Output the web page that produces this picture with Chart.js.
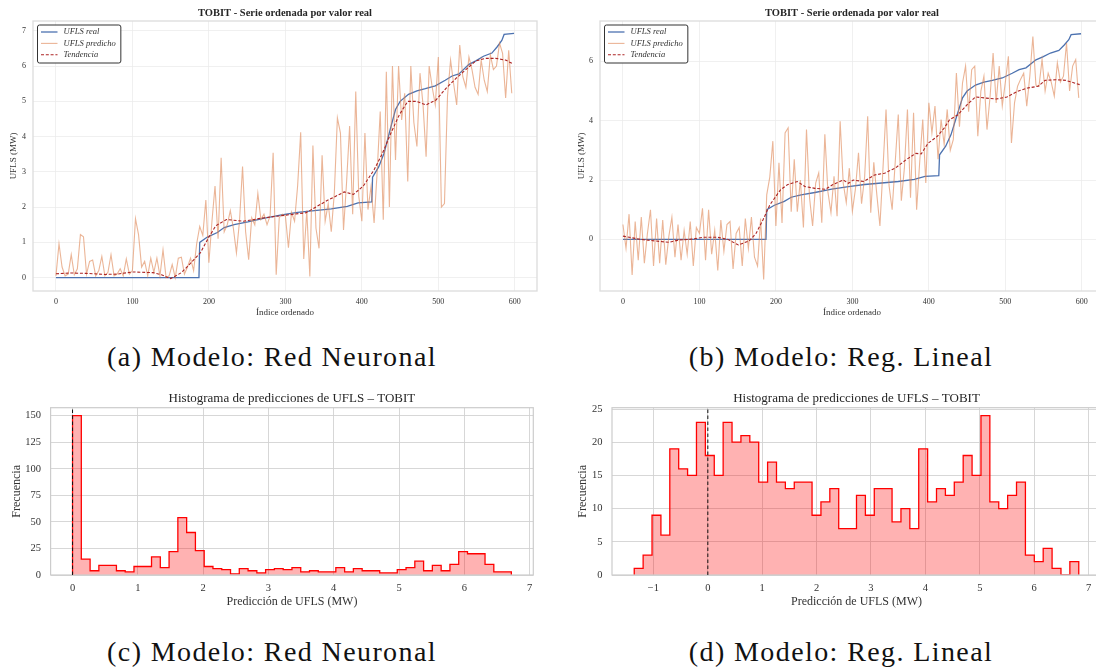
<!DOCTYPE html>
<html>
<head>
<meta charset="utf-8">
<script src="https://cdn.jsdelivr.net/npm/chart.js@4.4.0/dist/chart.umd.min.js"></script>
<style>
  html, body { margin: 0; padding: 0; background: #fff; }
  body { width: 1096px; height: 671px; position: relative; overflow: hidden; font-family: "Liberation Serif", serif; }
  canvas { position: absolute; }
  .caption { position: absolute; width: 560px; text-align: center; font-size: 28px; line-height: 30px; letter-spacing: 1.4px; color: #111; }
</style>
</head>
<body>
<canvas id="serieNN" width="545" height="325" style="left:0;top:0"></canvas>
<canvas id="serieRL" width="560" height="325" style="left:550px;top:0"></canvas>
<canvas id="histNN" width="545" height="230" style="left:0;top:385px"></canvas>
<canvas id="histRL" width="560" height="230" style="left:550px;top:385px"></canvas>
<div class="caption" style="left:-8px;top:342px">(a) Modelo: Red Neuronal</div>
<div class="caption" style="left:561px;top:342px">(b) Modelo: Reg. Lineal</div>
<div class="caption" style="left:-8px;top:637px">(c) Modelo: Red Neuronal</div>
<div class="caption" style="left:561px;top:637px">(d) Modelo: Reg. Lineal</div>
<script>
// ---- datos ----
// serie real (vertices de la curva ordenada)
const indiceReal = [0, 187, 188, 198, 211, 220, 233, 251, 273, 295, 316, 338, 360, 381, 395, 413, 414, 422, 429, 437, 444, 450, 461, 472, 483, 496, 509, 518, 527, 540, 549, 559, 570, 577, 583, 586, 599];
const uflsReal = [0, 0, 1.0, 1.15, 1.28, 1.42, 1.5, 1.58, 1.69, 1.78, 1.85, 1.9, 1.95, 2.02, 2.12, 2.15, 2.85, 3.14, 3.53, 4.2, 4.77, 5.0, 5.2, 5.3, 5.36, 5.44, 5.6, 5.72, 5.78, 6.05, 6.15, 6.28, 6.37, 6.55, 6.73, 6.9, 6.93];

// predicciones, una cada 4 indices
const paso = 4;
const predNN = [
  0.05, 0.96, 0.3, 0.05, 0.1, 0.65, 0.08, 0.25, 1.22, 1.16, 0.1, 0.46, 0.5, 0.05, 0.2, 0.6, 0.05, 0.15, 0.65, 0.05, 0.1, 0.25, 0.05, 0.53,
  0.1, 0.2, 1.67, 1.22, 0.3, 0.46, 0.05, 0.55, 0.15, 0.55, 0.05, 0.79, 0.0, 0.05, 0.37, 0.0, 0.55, 0.58, 0.1, 0.3, 0.55, 0.2, 0.96,
  1.45, 1.2, 2.2, 0.42, 1.6, 2.6, 1.1, 3.4, 1.3, 1.5, 1.9, 1.4, 0.7, 1.6, 3.15, 1.3, 0.51, 1.7, 1.5, 2.39, 1.65, 1.8, 1.5, 1.75,
  3.54, 0.08, 1.7, 1.8, 1.75, 0.85, 1.85, 1.6, 2.6, 4.12, 0.53, 1.9, 0.03, 3.75, 1.4, 0.83, 3.47, 1.6, 2.1, 1.3, 2.4, 4.53, 4.1,
  1.35, 2.7, 4.3, 1.8, 5.28, 2.3, 1.6, 4.1,
  1.93, 2.59, 1.55, 3.0, 4.71, 1.64, 5.84, 2.0, 6.0, 3.34, 6.0, 4.47, 5.23, 2.73, 6.0, 4.4, 3.72, 5.8, 4.9, 3.43, 6.0, 5.4, 4.9, 6.26,
  2.0, 2.1, 5.16, 6.17, 5.5, 4.9, 6.6, 5.7, 5.4, 6.26, 5.9, 5.4, 5.2, 6.17, 5.6, 5.28, 6.32, 5.9, 6.0, 6.65, 6.36, 5.1, 6.45, 5.23
];
const predRL = [
  0.5, -0.3, 0.85, -1.2, 0.6, -0.7, 0.75, -0.8, 0.2, 1.0, -0.9, 0.7, -0.8, 0.65, -0.85, 0.1, 0.75, -0.6, 0.5, -0.7, 0.3, -0.5, 0.6, -0.9,
  0.4, 0.2, 1.05, -0.7, 1.0, -0.5, 0.3, -1.05, 0.65, -0.4, 0.5, 0.6, -1.0, 0.2, 0.4, -0.9, 0.7, -0.3, 0.75, -0.6, -0.9, 0.7, -1.35,
  1.5, 2.1, 3.31, 0.45, 2.58, 0.55, 3.59, 3.76, 0.93, 2.7, 0.93, 2.0, 0.4, 3.7, 1.4, 0.45, 1.9, 2.24, 0.56, 3.54, 1.6, 0.9, 2.13, 0.78,
  3.98, 1.9, 1.24, 2.4, 0.95, 1.7, 2.92, 1.2, 2.1, 4.15, 0.9, 2.6, 1.5, 0.45, 2.4, 4.38, 1.8, 1.0, 2.6, 4.21, 1.3, 2.4, 4.38, 1.4,
  4.27, 1.0, 2.6, 4.04, 1.9, 4.6, 3.59,
  4.49, 2.7, 4.04, 3.2, 4.38, 3.0, 3.37, 5.61, 3.8, 5.27, 5.84, 4.3, 5.72, 5.84, 3.48, 5.0, 5.5, 3.7, 4.8, 6.28, 4.6, 5.84, 4.5, 5.3,
  6.17, 3.25, 4.6, 5.16, 5.4, 5.6, 4.49, 5.5, 6.84, 5.2, 5.16, 6.06, 5.0, 5.6, 5.3, 4.83, 5.95, 5.3, 5.5, 6.62, 5.0, 5.84, 6.06, 4.77
];

// tendencia suavizada
const tendNNx = [0, 20, 40, 64, 80, 100, 127, 138, 150, 164, 177, 189, 200, 209, 223, 245, 273, 300, 327, 354, 377, 389, 402, 416, 427, 438, 449, 460, 471, 484, 497, 510, 523, 536, 549, 562, 575, 588, 598];
const tendNNy = [0.11, 0.13, 0.12, 0.09, 0.1, 0.16, 0.14, 0.08, -0.03, 0.14, 0.43, 0.71, 1.15, 1.47, 1.65, 1.6, 1.7, 1.77, 1.84, 2.18, 2.43, 2.36, 2.6, 3.06, 3.53, 4.1, 4.62, 5.0, 5.0, 4.9, 5.04, 5.37, 5.65, 5.9, 6.15, 6.22, 6.22, 6.17, 6.06];
const tendRLx = [0, 23, 41, 60, 73, 87, 105, 124, 137, 151, 165, 174, 183, 192, 206, 215, 228, 238, 251, 265, 274, 288, 295, 301, 315, 329, 342, 356, 370, 383, 390, 399, 411, 420, 427, 438, 450, 461, 475, 488, 502, 516, 529, 543, 552, 566, 579, 598];
const tendRLy = [0.11, 0.0, -0.05, -0.1, -0.02, 0, 0.07, 0.07, 0, -0.19, -0.05, 0.2, 0.65, 1.16, 1.67, 1.84, 1.95, 1.78, 1.72, 1.69, 1.84, 2.0, 1.89, 2.0, 1.95, 2.17, 2.23, 2.4, 2.68, 2.9, 2.88, 3.24, 3.47, 3.75, 4.03, 4.2, 4.54, 4.8, 4.76, 4.73, 4.8, 4.99, 5.1, 5.16, 5.36, 5.38, 5.36, 5.21];

// histogramas: 50 clases entre el minimo y el maximo de la prediccion
const rangoNN = [0.0, 6.72];
const conteoNN = [150, 15, 4, 9, 9, 4, 3, 8, 8, 17, 7, 22, 54, 40, 23, 8, 6, 5, 1, 6, 4, 2, 5, 6, 5,
  7, 3, 4, 3, 3, 7, 3, 6, 4, 4, 2, 2, 5, 7, 13, 4, 9, 4, 10, 22, 20, 20, 10, 3, 3];
const rangoRL = [-1.353, 6.82];
const conteoRL = [1, 3, 9, 6, 19, 16, 15, 23, 18, 15, 23, 20, 21, 20, 14, 17, 14, 13, 14, 14, 9, 11, 13, 7, 7,
  12, 9, 13, 13, 8, 10, 7, 19, 11, 13, 12, 14, 18, 15, 24, 11, 10, 12, 14, 3, 2, 4, 1, 0, 2];

// ---- estilo ----
Chart.defaults.font.family = '"Liberation Serif", "DejaVu Serif", serif';
Chart.defaults.color = '#333';
Chart.defaults.animation = false;

const fmt = v => (v < 0 ? '\u2212' + Math.abs(v) : String(v));

const marco = {
  id: 'marco',
  afterDatasetsDraw(chart, args, opts) {
    const { ctx, chartArea: a } = chart;
    ctx.save();
    ctx.strokeStyle = opts.color;
    ctx.lineWidth = opts.width;
    ctx.strokeRect(a.left, a.top, a.right - a.left, a.bottom - a.top);
    ctx.restore();
  }
};

const lineaCero = {
  id: 'lineaCero',
  afterDatasetsDraw(chart) {
    const { ctx, chartArea: a } = chart;
    const x = chart.scales.x.getPixelForValue(0);
    ctx.save();
    ctx.strokeStyle = '#111';
    ctx.lineWidth = 1;
    ctx.setLineDash([3.5, 2.5]);
    ctx.beginPath();
    ctx.moveTo(x, a.bottom);
    ctx.lineTo(x, a.top);
    ctx.stroke();
    ctx.restore();
  }
};

const leyenda = {
  id: 'leyenda',
  afterDraw(chart) {
    const { ctx, chartArea: a } = chart;
    const items = chart.data.datasets;
    ctx.save();
    ctx.font = 'italic 8.5px "Liberation Serif"';
    const anchoTexto = Math.max(...items.map(d => ctx.measureText(d.label).width));
    const x0 = a.left + 4.5, y0 = a.top + 4;
    const w = 26 + anchoTexto + 5, h = 38;
    ctx.fillStyle = 'rgba(255,255,255,0.9)';
    ctx.strokeStyle = '#333';
    ctx.lineWidth = 1;
    ctx.beginPath();
    ctx.roundRect(x0, y0, w, h, 2);
    ctx.fill();
    ctx.stroke();
    items.forEach((d, i) => {
      const y = y0 + 7 + i * 11.4;
      ctx.strokeStyle = d.borderColor;
      ctx.lineWidth = d.borderWidth;
      ctx.setLineDash(d.borderDash || []);
      ctx.beginPath();
      ctx.moveTo(x0 + 3.5, y);
      ctx.lineTo(x0 + 20, y);
      ctx.stroke();
      ctx.setLineDash([]);
      ctx.fillStyle = '#333';
      ctx.textBaseline = 'middle';
      ctx.fillText(d.label, x0 + 26, y);
    });
    ctx.restore();
  }
};

const zip = (xs, ys) => xs.map((x, i) => ({ x, y: ys[i] }));

function serie(id, pred, tendX, tendY, yMin, yMax, yStep, anchoY, padTituloY) {
  new Chart(document.getElementById(id), {
    type: 'line',
    data: {
      datasets: [
        { label: 'UFLS real', data: zip(indiceReal, uflsReal), borderColor: '#4c72b0', borderWidth: 1.3, order: 3 },
        { label: 'UFLS predicho', data: pred.map((v, i) => ({ x: i * paso, y: v })), borderColor: 'rgba(221,132,82,0.6)', borderWidth: 1.1, order: 2 },
        { label: 'Tendencia', data: zip(tendX, tendY), borderColor: '#ad2424', borderWidth: 1.1, borderDash: [3, 1.8], order: 1 }
      ]
    },
    options: {
      responsive: false,
      elements: { point: { radius: 0 }, line: { tension: 0 } },
      layout: { padding: { left: 0, right: id === 'serieNN' ? 8 : 6, top: 0, bottom: 0 } },
      plugins: {
        legend: { display: false },
        tooltip: { enabled: false },
        title: {
          display: true, fullSize: false, text: 'TOBIT - Serie ordenada por valor real',
          font: { size: 10.5, weight: 'bold' }, color: '#262626', padding: { top: 7, bottom: 1.4 }
        },
        marco: { color: '#dcdcdc', width: 1.3 }
      },
      scales: {
        x: {
          type: 'linear', min: -30, max: 629,
          afterFit: s => { s.height = 34; },
          grid: { color: '#ececec', lineWidth: 0.8, drawTicks: false },
          border: { display: false },
          ticks: { stepSize: 100, includeBounds: false, padding: 6, font: { size: 8 }, maxRotation: 0 },
          title: { display: true, text: 'Índice ordenado', font: { size: 9 }, color: '#333', padding: { top: 0, bottom: 6.6 } }
        },
        y: {
          min: yMin, max: yMax,
          afterFit: s => { s.width = anchoY; },
          grid: { color: '#ececec', lineWidth: 0.8, drawTicks: false },
          border: { display: false },
          ticks: { stepSize: yStep, includeBounds: false, padding: 7, font: { size: 8 }, callback: fmt },
          title: { display: true, text: 'UFLS (MW)', font: { size: 9 }, color: '#333', padding: { top: padTituloY, bottom: 0 } }
        }
      }
    },
    plugins: [marco, leyenda]
  });
}

function histograma(id, conteos, rango, xMin, xMax, yMax, yStep, anchoY, padTituloY, derecha) {
  const ancho = (rango[1] - rango[0]) / conteos.length;
  const puntos = [{ x: rango[0], y: 0 }];
  conteos.forEach((c, i) => puntos.push({ x: rango[0] + (i + 1) * ancho, y: c }));
  puntos.push({ x: rango[1], y: 0 });
  new Chart(document.getElementById(id), {
    type: 'line',
    data: {
      datasets: [{
        label: 'Frecuencia', data: puntos, stepped: 'after', fill: 'origin',
        borderColor: '#ff0000', borderWidth: 1.3, backgroundColor: 'rgba(255,0,0,0.3)'
      }]
    },
    options: {
      responsive: false,
      elements: { point: { radius: 0 } },
      layout: { padding: { left: 0, right: derecha, top: 0, bottom: 0 } },
      plugins: {
        legend: { display: false },
        tooltip: { enabled: false },
        title: {
          display: true, fullSize: false, text: 'Histograma de predicciones de UFLS \u2013 TOBIT',
          font: { size: 13, weight: 'normal' }, color: '#262626', padding: { top: 5.5, bottom: 1.6 }
        },
        marco: { color: '#cccccc', width: 1.2 }
      },
      scales: {
        x: {
          type: 'linear', min: xMin, max: xMax,
          afterFit: s => { s.height = 40; },
          grid: { color: '#d2d2d2', lineWidth: 0.9, drawTicks: false },
          border: { display: false },
          ticks: { stepSize: 1, includeBounds: false, padding: 7, font: { size: 10.5 }, maxRotation: 0, callback: fmt },
          title: { display: true, text: 'Predicción de UFLS (MW)', font: { size: 12 }, color: '#333', padding: { top: 0, bottom: 5.8 } }
        },
        y: {
          min: 0, max: yMax,
          afterFit: s => { s.width = anchoY; },
          grid: { color: '#d2d2d2', lineWidth: 0.9, drawTicks: false },
          border: { display: false },
          ticks: { stepSize: yStep, includeBounds: false, padding: 9.5, font: { size: 10.5 } },
          title: { display: true, text: 'Frecuencia', font: { size: 12 }, color: '#333', padding: { top: padTituloY, bottom: 0 } }
        }
      }
    },
    plugins: [marco, lineaCero]
  });
}

serie('serieNN', predNN, tendNNx, tendNNy, -0.38, 7.28, 1, 33, 8);
serie('serieRL', predRL, tendRLx, tendRLy, -1.74, 7.36, 2, 50, 26);
histograma('histNN', conteoNN, rangoNN, -0.336, 7.056, 157.5, 25, 50.6, 9.5, 11.7);
histograma('histRL', conteoRL, rangoRL, -1.762, 7.229, 25.2, 5, 62, 25.8, 9);
</script>
</body>
</html>
